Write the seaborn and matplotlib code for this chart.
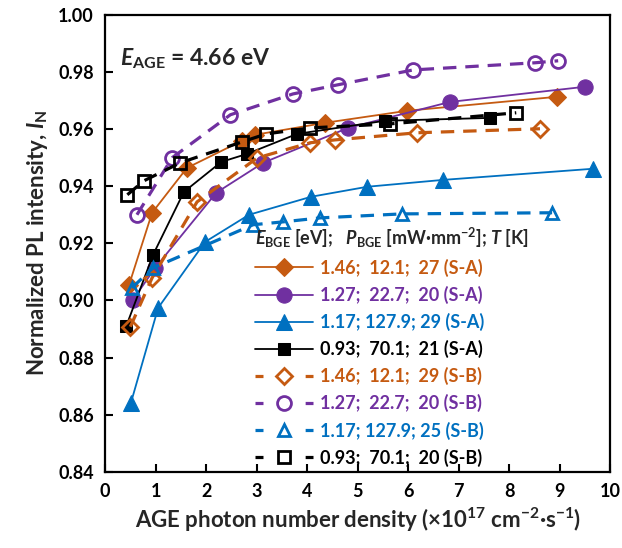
import matplotlib
matplotlib.use("Agg")
import matplotlib.pyplot as plt
import seaborn as sns
import numpy as np
import pandas as pd

# ---- data ----
x_sa146 = [0.475, 0.93, 1.62, 2.71, 2.97, 4.36, 5.98, 8.95]
y_sa146 = [0.9055, 0.9307, 0.9464, 0.9559, 0.958, 0.9622, 0.9664, 0.9713]
x_sa127 = [0.55, 0.99, 2.2, 3.13, 4.81, 6.83, 9.5]
y_sa127 = [0.9002, 0.9114, 0.9377, 0.9482, 0.9604, 0.9695, 0.9748]
x_sa117 = [0.51, 1.05, 1.98, 2.85, 4.08, 5.19, 6.69, 9.66]
y_sa117 = [0.8641, 0.8974, 0.9205, 0.930, 0.9363, 0.9398, 0.9422, 0.9461]
x_sa093 = [0.42, 0.95, 1.56, 2.3, 2.81, 3.8, 5.54, 7.62]
y_sa093 = [0.8911, 0.916, 0.938, 0.9485, 0.9513, 0.9583, 0.9629, 0.9639]
x_sb146 = [0.5, 0.93, 1.82, 3.01, 4.06, 4.55, 6.18, 8.61]
y_sb146 = [0.8908, 0.9079, 0.9345, 0.9499, 0.9552, 0.9562, 0.9587, 0.9601]
x_sb127 = [0.63, 1.33, 2.48, 3.72, 4.61, 6.1, 8.51, 8.97]
y_sb127 = [0.930, 0.950, 0.965, 0.9723, 0.9755, 0.9807, 0.9832, 0.9839]
x_sb117 = [0.53, 0.95, 2.93, 3.52, 4.26, 5.88, 8.85]
y_sb117 = [0.9044, 0.9114, 0.9265, 0.9275, 0.9289, 0.9303, 0.9307]
x_sb093 = [0.44, 0.77, 1.49, 2.71, 3.19, 4.06, 5.64, 8.14]
y_sb093 = [0.937, 0.9419, 0.9482, 0.9555, 0.9583, 0.9604, 0.9618, 0.9657]

labels = ["1.46;  12.1;  27 (S-A)", "1.27;  22.7;  20 (S-A)",
          "1.17; 127.9; 29 (S-A)", "0.93;  70.1;  21 (S-A)",
          "1.46;  12.1;  29 (S-B)", "1.27;  22.7;  20 (S-B)",
          "1.17; 127.9; 25 (S-B)", "0.93;  70.1;  20 (S-B)"]
xticks = [0, 1, 2, 3, 4, 5, 6, 7, 8, 9, 10]
yticks = [0.84, 0.86, 0.88, 0.90, 0.92, 0.94, 0.96, 0.98, 1.00]

ORANGE = "#C55A11"
PURPLE = "#7030A0"
BLUE = "#0070C0"
BLACK = "#000000"

sns.set_theme(style="ticks")
plt.rcParams["font.family"] = ["Lato", "DejaVu Sans"]
plt.rcParams["font.weight"] = "bold"
plt.rcParams["mathtext.fontset"] = "custom"
plt.rcParams["mathtext.rm"] = "Lato:bold"
plt.rcParams["mathtext.it"] = "Lato:bold:italic"
plt.rcParams["mathtext.bf"] = "Lato:bold"

fig = plt.figure(figsize=(6.22, 5.48), dpi=100)
ax = fig.add_axes([0.169, 0.139, 0.812, 0.834])

series = [
    (x_sa146, y_sa146, ORANGE, "D", 9.5, False),
    (x_sa127, y_sa127, PURPLE, "o", 11, False),
    (x_sa117, y_sa117, BLUE, "^", 11, False),
    (x_sa093, y_sa093, BLACK, "s", 9, False),
    (x_sb146, y_sb146, ORANGE, "D", 8, True),
    (x_sb127, y_sb127, PURPLE, "o", 10, True),
    (x_sb117, y_sb117, BLUE, "^", 9, True),
    (x_sb093, y_sb093, BLACK, "s", 8, True),
]

handles = []
for (xs, ys, col, mk, ms, dashed), lab in zip(series, labels):
    df = pd.DataFrame({"x": xs, "y": ys})
    n_before = len(ax.lines)
    if dashed:
        sns.lineplot(data=df, x="x", y="y", ax=ax, sort=False, estimator=None,
                     color=col, marker=mk, markersize=ms, markerfacecolor="none",
                     markeredgecolor=col, markeredgewidth=2.0, linewidth=2.3,
                     label=lab)
        ln = ax.lines[n_before]
        ln.set_dashes((4.2, 2.8))
    else:
        sns.lineplot(data=df, x="x", y="y", ax=ax, sort=False, estimator=None,
                     color=col, marker=mk, markersize=ms, markerfacecolor=col,
                     markeredgecolor=col, linewidth=1.3, label=lab)
        ln = ax.lines[n_before]
    handles.append(ln)

ax.set_xlim(0, 10)
ax.set_ylim(0.84, 1.00)
ax.set_xticks(xticks)
ax.set_yticks(yticks)
ax.set_xticklabels([str(t) for t in xticks])
ax.set_yticklabels([f"{t:.2f}" for t in yticks])
ax.tick_params(axis="both", direction="in", length=6, width=1.5, labelsize=13,
               pad=8, colors="black")
for s in ax.spines.values():
    s.set_linewidth(1.6)
    s.set_color("black")
    s.set_visible(True)

ax.set_xlabel(r"AGE photon number density (×10$^{17}$ cm$^{-2}$·s$^{-1}$)",
              fontsize=16, fontweight="bold", labelpad=4)
ax.set_ylabel(r"Normalized PL intensity, $\mathit{I}_{\mathrm{N}}$",
              fontsize=16, fontweight="bold", labelpad=6)

ax.text(0.03, 0.905, r"$\mathit{E}_{\mathrm{AGE}}$ = 4.66 eV", transform=ax.transAxes,
        fontsize=16.5, fontweight="bold", ha="left", va="center")

leg = ax.legend(handles=handles, labels=labels, loc="upper left",
                bbox_to_anchor=(0.283, 0.555), frameon=False, fontsize=13,
                handlelength=3.2, handletextpad=0.4, labelspacing=0.5,
                title=r"$\mathit{E}_{\mathrm{BGE}}$ [eV];   $\mathit{P}_{\mathrm{BGE}}$ [mW·mm$^{-2}$]; $\mathit{T}$ [K]",
                title_fontproperties={"size": 13, "weight": "bold"},
                alignment="left", borderaxespad=0)
for txt, (xs, ys, col, mk, ms, dashed) in zip(leg.get_texts(), series):
    txt.set_color(col)
    txt.set_fontweight("bold")
for lh, (xs, ys, col, mk, ms, dashed) in zip(leg.get_lines(), series):
    if dashed:
        lh.set_dashes((2.5, 13.2))

fig.savefig("out.png", dpi=100)
